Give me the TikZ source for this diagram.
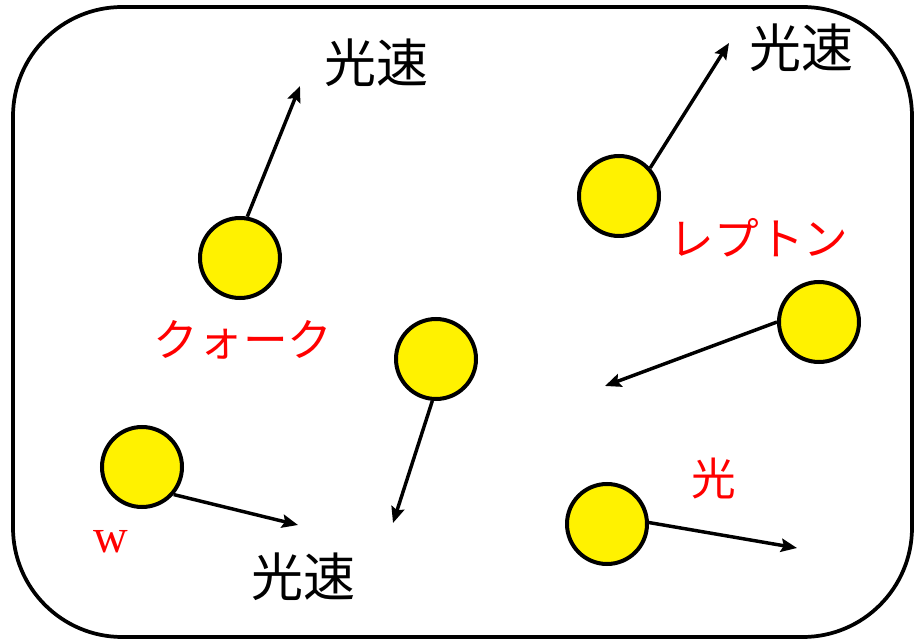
\documentclass[tikz,border=0pt]{standalone}
\usepackage{fontspec}
\newfontfamily\jp{Noto Sans CJK JP}
\newfontfamily\serifw{Liberation Serif}
\usetikzlibrary{arrows.meta}
\begin{document}
\begin{tikzpicture}[x=0.75pt,y=-0.75pt,
  ball/.style={circle,draw=black,line width=3pt,fill=yellow,minimum size=80*0.75pt,inner sep=0pt},
  arr/.style={line width=2.6pt,-{Stealth[length=12pt,width=10pt,inset=2pt]}},
  speed/.style={font=\jp\fontsize{39}{41}\selectfont,text=black,inner sep=0pt},
  lab/.style={font=\jp\fontsize{33.5}{36}\selectfont,text=red,inner sep=0pt}]
\useasboundingbox (0,0) rectangle (914,641);
\draw[line width=2.8pt,rounded corners=82pt] (13,7) rectangle (912,637);
\node[ball] (c1) at (240,258) {};
\node[ball] (c2) at (619,196) {};
\node[ball] (c3) at (819,322) {};
\node[ball] (c4) at (436,359) {};
\node[ball] (c5) at (142,467) {};
\node[ball] (c6) at (607,524) {};
\coordinate (t1) at (300,86);
\coordinate (t2) at (729,43);
\coordinate (t3) at (605,386);
\coordinate (t4) at (393,523);
\coordinate (t5) at (298,525);
\coordinate (t6) at (797,548);
\draw[arr] (c1.80) -- (t1);
\draw[arr] (c2.42) -- (t2);
\draw[arr] (c3.180) -- (t3);
\draw[arr] (c4.265) -- (t4);
\draw[arr] (c5.-41) -- (t5);
\draw[arr] (c6.2) -- (t6);
\node[speed] (s1) at (376,63) {光速};
\node[speed] (s2) at (801,48) {光速};
\node[speed] (s3) at (303,577) {光速};
\node[lab] (l1) at (759,238) {レプトン};
\node[lab] (l2) at (243,340) {クォーク};
\node[lab] (l3) at (714,479) {光};
\node[font=\serifw\fontsize{36}{38}\selectfont,text=red,inner sep=0pt] (w) at (111,542) {w};
\end{tikzpicture}
\end{document}
